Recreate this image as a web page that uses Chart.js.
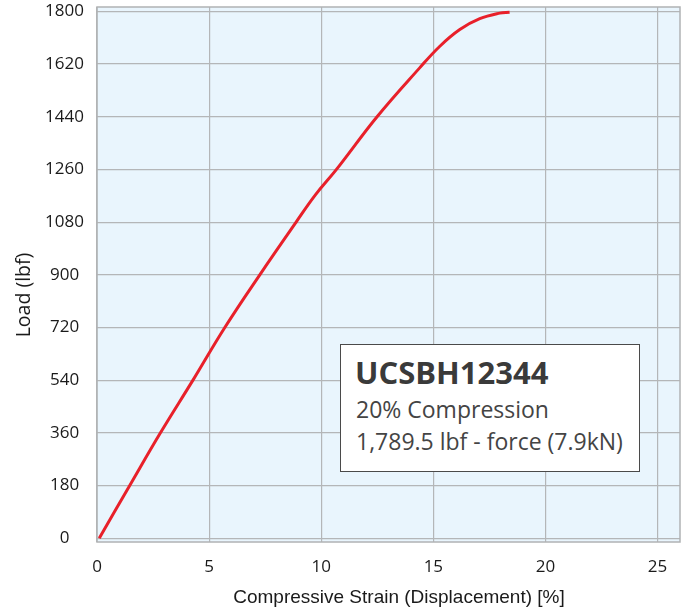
<!DOCTYPE html>
<html>
<head>
<meta charset="utf-8">
<script src="https://cdn.jsdelivr.net/npm/chart.js@4.4.1/dist/chart.umd.min.js"></script>
<style>
  html, body { margin: 0; padding: 0; background: #ffffff; }
  #wrap { position: relative; width: 688px; height: 613px; }
  #c { position: absolute; left: 0; top: 0; }
  #note { position: absolute; left: 340px; top: 344px; width: 300px; height: 128px;
          background: #ffffff; border: 1.5px solid #4a4a4a; box-sizing: border-box; }
  .ln { position: absolute; white-space: nowrap; font-family: "Open Sans", "Noto Sans", sans-serif; color: #444444; }
  #xt { position: absolute; left: 199px; width: 400px; top: 586px; text-align: center; white-space: nowrap;
        font-family: "Liberation Sans", Arial, sans-serif; font-size: 19px; line-height: 22px; color: #1a1a1a; }
  #yt { position: absolute; left: -77px; width: 200px; top: 283px; text-align: center; white-space: nowrap;
        transform: rotate(-90deg); transform-origin: 50% 50%;
        font-family: "Open Sans", sans-serif; font-size: 19.5px; line-height: 24px; color: #1a1a1a; }
</style>
</head>
<body>
<div id="wrap">
  <canvas id="c" width="688" height="613"></canvas>
  <div id="note">
    <div class="ln" style="left:14px; top:12px; font-size:31px; line-height:31px; font-weight:700; color:#3a3a3a;">UCSBH12344</div>
    <div class="ln" style="left:15px; top:53px; font-size:23px; line-height:23px;">20% Compression</div>
    <div class="ln" style="left:15px; top:85px; font-size:23px; line-height:23px;">1,789.5 lbf - force (7.9kN)</div>
  </div>
  <div id="xt"></div>
  <div id="yt"></div>
</div>
<script>
// Data
const strain = [0.1, 1.46, 2.83, 4.28, 5.70, 7.26, 8.88, 9.74, 10.68, 12.49, 14.39, 15.29, 16.18, 17.07, 17.96, 18.40];
const load   = [0, 180, 360, 540, 720, 900, 1080, 1173, 1260, 1440, 1607, 1681, 1738, 1775, 1794, 1797];
const xTicks = [0, 5, 10, 15, 20, 25];
const yTicks = [0, 180, 360, 540, 720, 900, 1080, 1260, 1440, 1620, 1800];
const xTitle = 'Compressive Strain (Displacement) [%]';
const yTitle = 'Load (lbf)';

document.getElementById('xt').textContent = xTitle;
document.getElementById('yt').textContent = yTitle;

const gridColor = '#b4b6b8';
const plotBg = '#e9f5fd';

const areaPlugin = {
  id: 'areaPlugin',
  beforeDraw(chart) {
    const a = chart.chartArea, ctx = chart.ctx;
    ctx.save();
    ctx.fillStyle = plotBg;
    ctx.fillRect(a.left, a.top, a.right - a.left, a.bottom - a.top);
    ctx.restore();
  },
  beforeDatasetsDraw(chart) {
    const a = chart.chartArea, ctx = chart.ctx;
    ctx.save();
    ctx.strokeStyle = '#b0b2b4';
    ctx.lineWidth = 1.5;
    ctx.strokeRect(a.left, a.top, a.right - a.left, a.bottom - a.top);
    ctx.restore();
  }
};

new Chart(document.getElementById('c'), {
  type: 'line',
  data: {
    datasets: [{
      data: strain.map((x, i) => ({ x: x, y: load[i] })),
      borderColor: '#e8202a',
      borderWidth: 3,
      pointRadius: 0,
      fill: false,
      tension: 0.4
    }]
  },
  options: {
    responsive: false,
    animation: false,
    devicePixelRatio: 1,
    layout: { padding: { left: 0, right: 8, top: 7, bottom: 0 } },
    plugins: { legend: { display: false }, tooltip: { enabled: false } },
    scales: {
      x: {
        type: 'linear',
        min: 0, max: 26,
        afterBuildTicks: s => { s.ticks = xTicks.map(v => ({ value: v })); },
        afterFit: s => { s.height = 71; s.paddingLeft = 0; s.paddingRight = 0; },
        grid: { color: gridColor, lineWidth: 1.2, drawTicks: false },
        border: { display: false },
        ticks: { padding: 15, color: '#1a1a1a', font: { family: '"Open Sans", sans-serif', size: 17 }, maxRotation: 0,
                 callback: v => String(v) }
      },
      y: {
        type: 'linear',
        min: -13, max: 1815,
        afterBuildTicks: s => { s.ticks = yTicks.map(v => ({ value: v })); },
        afterFit: s => { s.width = 97; s.paddingTop = 0; s.paddingBottom = 0; },
        grid: { color: gridColor, lineWidth: 1.2, drawTicks: false },
        border: { display: false },
        ticks: { padding: 13, crossAlign: 'center', color: '#1a1a1a', font: { family: '"Open Sans", sans-serif', size: 17 },
                 callback: v => String(v) }
      }
    }
  },
  plugins: [areaPlugin]
});
</script>
</body>
</html>
